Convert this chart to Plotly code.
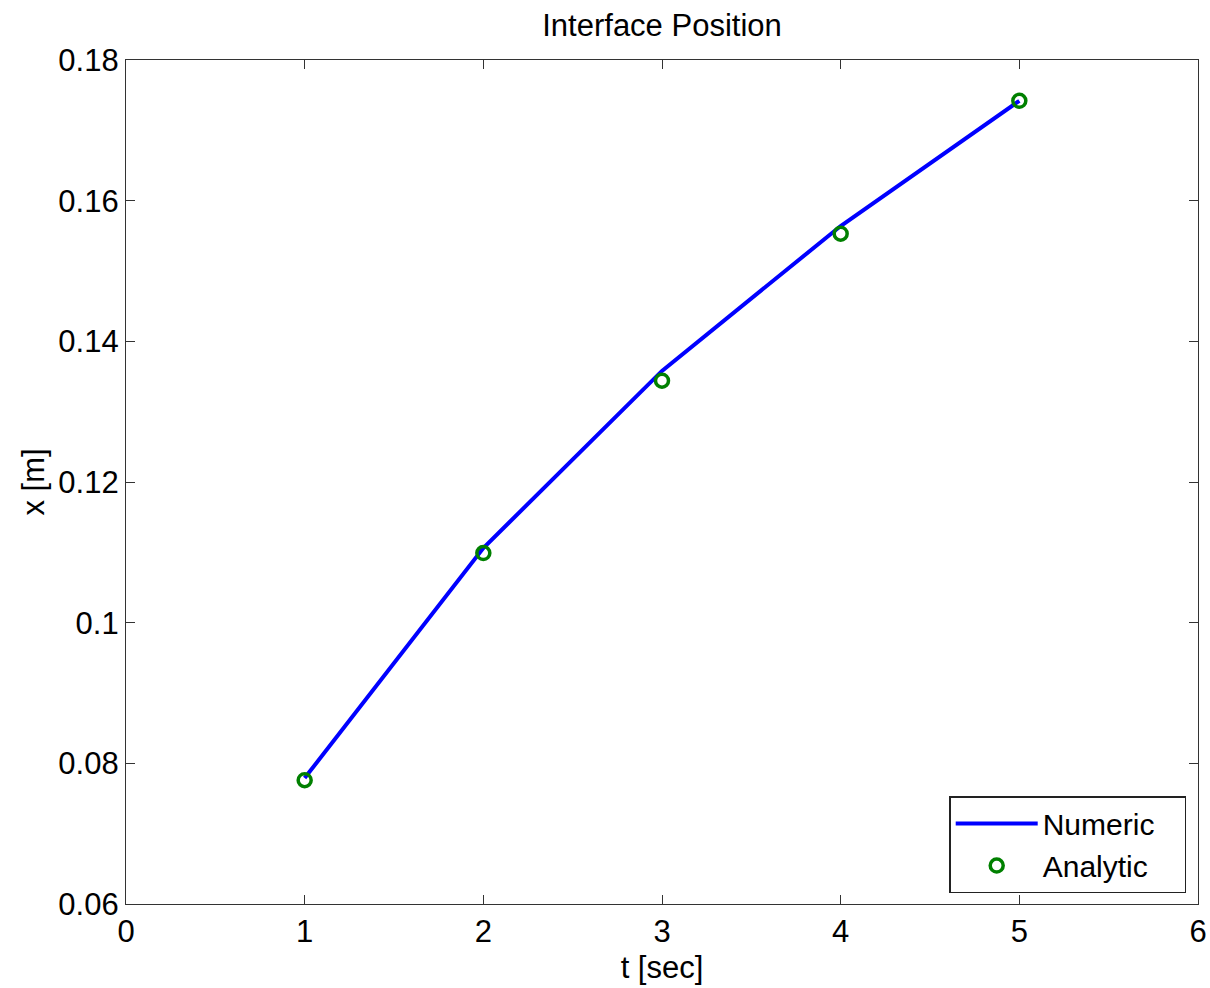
import plotly.graph_objects as go

t_vals = [1, 2, 3, 4, 5]
numeric_x = [0.0779, 0.1106, 0.1358, 0.1564, 0.1742]
analytic_x = [0.0776, 0.1099, 0.1344, 0.1553, 0.1742]
x_ticks = [0, 1, 2, 3, 4, 5, 6]
y_ticks = [0.06, 0.08, 0.10, 0.12, 0.14, 0.16, 0.18]
y_tick_labels = ["0.06", "0.08", "0.1", "0.12", "0.14", "0.16", "0.18"]
series_names = ["Numeric", "Analytic"]

FONT = "Liberation Sans, Arial, sans-serif"
AX = "#333333"
PAD = "\u00a0\u00a0\u00a0"

fig = go.Figure()
fig.add_trace(go.Scatter(x=t_vals, y=numeric_x, mode="lines", name=series_names[0] + PAD,
                         line=dict(color="#0000ff", width=4)))
fig.add_trace(go.Scatter(x=t_vals, y=analytic_x, mode="markers", name=series_names[1] + PAD,
                         marker=dict(symbol="circle-open", color="#008000", size=13,
                                     line=dict(width=3.5, color="#008000"))))

fig.update_layout(
    width=1210, height=988,
    margin=dict(l=126, r=12, t=60, b=84),
    paper_bgcolor="white", plot_bgcolor="white",
    font=dict(family=FONT, size=31, color="black"),
    title=dict(text="Interface Position", x=0.5, xref="paper", xanchor="center",
               y=0.975, yanchor="middle",
               font=dict(size=31, family=FONT, color="black")),
    showlegend=True,
    legend=dict(x=0.989, y=0.013, xanchor="right", yanchor="bottom",
                bgcolor="white", bordercolor="#222222", borderwidth=1.5,
                font=dict(size=30, family=FONT, color="black"),
                itemwidth=82, tracegroupgap=0),
)
fig.update_xaxes(range=[0, 6], tickvals=x_ticks, ticks="inside", ticklen=9, tickwidth=1,
                 tickcolor=AX, showline=True, linecolor=AX, linewidth=1.2, mirror="ticks",
                 showgrid=False, zeroline=False, automargin=False,
                 tickfont=dict(size=31, family=FONT, color="black"),
                 title=dict(text="t [sec]", standoff=8, font=dict(size=31, family=FONT, color="black")))
fig.update_yaxes(range=[0.06, 0.18], tickvals=y_ticks, ticktext=y_tick_labels, ticks="inside",
                 ticklen=9, tickwidth=1, tickcolor=AX, showline=True, linecolor=AX, linewidth=1.2,
                 mirror="ticks", showgrid=False, zeroline=False, automargin=False,
                 tickfont=dict(size=31, family=FONT, color="black"),
                 title=dict(text="x [m]", standoff=4, font=dict(size=31, family=FONT, color="black")))

fig.write_html("out.html")
